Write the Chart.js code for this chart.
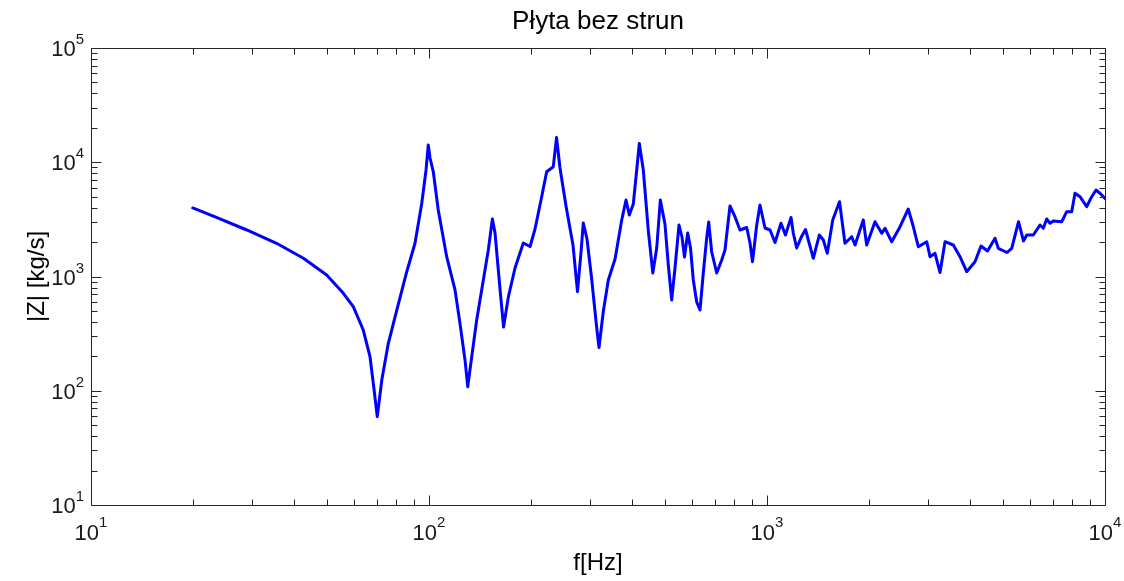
<!DOCTYPE html>
<html>
<head>
<meta charset="utf-8">
<script src="https://cdn.jsdelivr.net/npm/chart.js@4.4.1/dist/chart.umd.min.js"></script>
<style>
  html, body { margin: 0; padding: 0; background: #ffffff; }
  #wrap { width: 1124px; height: 581px; }
</style>
</head>
<body>
<div id="wrap"><canvas id="c" width="1124" height="581"></canvas></div>
<script>
// ---- data ----
const chartTitle = 'Płyta bez strun';
const xAxisTitle = 'f[Hz]';
const yAxisTitle = '|Z| [kg/s]';

const freqHz = [
  20, 23.5, 28.9, 35.4, 42.5, 49.8, 55.8, 59.7, 63.9, 66.9,
  68.8, 70.3, 72.5, 75.8, 80.3, 85.9, 90.9, 95.2, 98.0, 99.5,
  100.7, 103.0, 106.5, 112.8, 119.4, 123.5, 127.8, 130.2, 133.8, 138.4,
  144.8, 149.8, 154.0, 156.8, 162.3, 166.2, 171.7, 179.7, 190.1, 199.1,
  205.9, 214.5, 222.9, 233.2, 238.4, 244.1, 254.3, 266.7, 275.0, 281.7,
  286.1, 293.4, 302.9, 313.0, 318.4, 328.0, 339.3, 355.2, 371.7, 382.7,
  391.4, 402.2, 411.1, 419.0, 430.6, 445.6, 459.4, 471.8, 483.5, 499.0,
  510.5, 522.4, 534.3, 549.1, 560.4, 570.0, 582.6, 593.9, 605.3, 619.4,
  633.6, 647.9, 663.1, 672.2, 686.1, 710.0, 734.5, 751.1, 777.1, 804.0,
  831.9, 870.9, 890.7, 906.0, 932.4, 953.4, 986.5, 1021, 1056, 1100,
  1134, 1178, 1196, 1224, 1265, 1300, 1325, 1371, 1428, 1468,
  1508, 1565, 1639, 1701, 1781, 1822, 1927, 1972, 2087, 2185,
  2234, 2339, 2475, 2618, 2709, 2803, 2969, 3036, 3141, 3250,
  3363, 3558, 3724, 3898, 4125, 4297, 4492, 4727, 4834, 5130,
  5297, 5549, 5741, 5867, 6137, 6423, 6570, 6723, 6876, 7031,
  7446, 7704, 7971, 8152, 8434, 8829, 9091, 9406, 9666, 10000
];

const impedance = [
  3980, 3298, 2553, 1953, 1443, 1031, 713, 544, 340, 199,
  101.5, 59.3, 124, 260, 509, 1095, 1953, 4373, 8553, 14160,
  10893, 8216, 3821, 1491, 762, 389, 186, 108.5, 199, 416,
  932, 1706, 3186, 2403, 762, 361, 662, 1187, 1965, 1830,
  2605, 4673, 8265, 9143, 16464, 8906, 4141, 1887, 736, 1638,
  2940, 2129, 951, 369, 239, 499, 932, 1423, 3122, 4673,
  3454, 4311, 8216, 14592, 8553, 2502, 1073, 1776, 4673, 2881,
  1261, 623, 1187, 2824, 2217, 1482, 2403, 1776, 932, 598,
  509, 1073, 2173, 2999, 1638, 1073, 1394, 1706, 4141, 3337,
  2553, 2685, 1965, 1348, 2824, 4224, 2658, 2553, 1985, 2922,
  2307, 3284, 2403, 1776, 2230, 2579, 2087, 1443, 2307, 2087,
  1596, 3122, 4515, 1953, 2230, 1887, 3122, 1887, 3017, 2388,
  2642, 2016, 2729, 3898, 2729, 1823, 2016, 1491, 1596, 1084,
  2016, 1887, 1491, 1102, 1348, 1849, 1672, 2160, 1765, 1622,
  1765, 3017, 2045, 2307, 2307, 2824, 2642, 3186, 2922, 3060,
  3017, 3691, 3691, 5347, 4994, 4082, 4864, 5716, 5347, 4815
];

const xTickValues = [10, 100, 1000, 10000];
const yTickValues = [10, 100, 1000, 10000, 100000];

// ---- chart ----
const FONT = '"Liberation Sans", Arial, Helvetica, sans-serif';
const AXIS_COLOR = '#262626';

function minorValues(decades) {
  const out = [];
  for (let i = 0; i < decades.length - 1; i++) {
    for (let m = 1; m <= 9; m++) out.push({ v: decades[i] * m, major: m === 1 });
  }
  out.push({ v: decades[decades.length - 1], major: true });
  return out;
}

const frameAndTicks = {
  id: 'frameAndTicks',
  afterDatasetsDraw(chart) {
    const { ctx, chartArea, scales } = chart;
    const { left, right, top, bottom } = chartArea;
    const xs = scales.x, ys = scales.y;
    ctx.save();
    ctx.strokeStyle = AXIS_COLOR;
    ctx.lineWidth = 1;
    ctx.beginPath();
    ctx.rect(left + 0.5, top + 0.5, right - left, bottom - top);
    ctx.stroke();
    const MAJ = 10, MIN = 6;
    ctx.beginPath();
    for (const t of minorValues(xTickValues)) {
      const px = Math.round(xs.getPixelForValue(t.v)) + 0.5;
      const len = t.major ? MAJ : MIN;
      ctx.moveTo(px, bottom + 0.5); ctx.lineTo(px, bottom + 0.5 - len);
      ctx.moveTo(px, top + 0.5); ctx.lineTo(px, top + 0.5 + len);
    }
    for (const t of minorValues(yTickValues)) {
      const py = Math.round(ys.getPixelForValue(t.v)) + 0.5;
      const len = t.major ? MAJ : MIN;
      ctx.moveTo(left + 0.5, py); ctx.lineTo(left + 0.5 + len, py);
      ctx.moveTo(right + 0.5, py); ctx.lineTo(right + 0.5 - len, py);
    }
    ctx.stroke();
    ctx.restore();
  },
  afterDraw(chart) {
    const { ctx, chartArea, scales } = chart;
    const xs = scales.x, ys = scales.y;
    const mainFont = '22px ' + FONT;
    const expFont = '15px ' + FONT;
    ctx.save();
    // chart title, centred over the plot area
    ctx.fillStyle = '#000000';
    ctx.font = '26px ' + FONT;
    ctx.textAlign = 'center';
    ctx.textBaseline = 'alphabetic';
    ctx.fillText(chartTitle, (chartArea.left + chartArea.right) / 2, 29);

    ctx.fillStyle = '#1a1a1a';
    ctx.textAlign = 'left';
    // x-axis labels
    for (const v of xTickValues) {
      const exp = String(Math.round(Math.log10(v)));
      ctx.font = mainFont; const wm = ctx.measureText('10').width;
      ctx.font = expFont; const we = ctx.measureText(exp).width;
      const px = xs.getPixelForValue(v);
      const x0 = px - (wm + we) / 2;
      const base = chartArea.bottom + 35;
      ctx.font = mainFont; ctx.fillText('10', x0, base);
      ctx.font = expFont; ctx.fillText(exp, x0 + wm, base - 13);
    }
    // y-axis labels
    for (const v of yTickValues) {
      const exp = String(Math.round(Math.log10(v)));
      ctx.font = mainFont; const wm = ctx.measureText('10').width;
      ctx.font = expFont; const we = ctx.measureText(exp).width;
      const py = ys.getPixelForValue(v);
      const xr = chartArea.left - 7;
      const base = py + 8;
      ctx.font = expFont; ctx.fillText(exp, xr - we, base - 12);
      ctx.font = mainFont; ctx.fillText('10', xr - we - wm, base);
    }
    ctx.restore();
  }
};

new Chart(document.getElementById('c'), {
  type: 'line',
  data: {
    datasets: [{
      data: freqHz.map((f, i) => ({ x: f, y: impedance[i] })),
      borderColor: '#0000ff',
      borderWidth: 3,
      borderJoinStyle: 'round',
      borderCapStyle: 'round',
      pointRadius: 0,
      tension: 0,
      fill: false
    }]
  },
  options: {
    responsive: false,
    animation: false,
    devicePixelRatio: 1,
    layout: { padding: { left: 0, right: 19, top: 48, bottom: 0 } },
    plugins: {
      legend: { display: false },
      tooltip: { enabled: false },
      title: { display: false }
    },
    scales: {
      x: {
        type: 'logarithmic',
        min: 10, max: 10000,
        grid: { display: false, drawTicks: false },
        border: { display: false },
        ticks: { display: false },
        title: {
          display: true, text: xAxisTitle, color: '#000000',
          font: { family: FONT, size: 24, lineHeight: 1.2 },
          padding: { top: 43.6, bottom: 3.6 }
        }
      },
      y: {
        type: 'logarithmic',
        min: 10, max: 100000,
        grid: { display: false, drawTicks: false },
        border: { display: false },
        ticks: { display: false },
        title: {
          display: true, text: yAxisTitle, color: '#000000',
          font: { family: FONT, size: 24, lineHeight: 1.2 },
          padding: { top: 22.6, bottom: 39.6 }
        }
      }
    }
  },
  plugins: [frameAndTicks]
});
</script>
</body>
</html>
